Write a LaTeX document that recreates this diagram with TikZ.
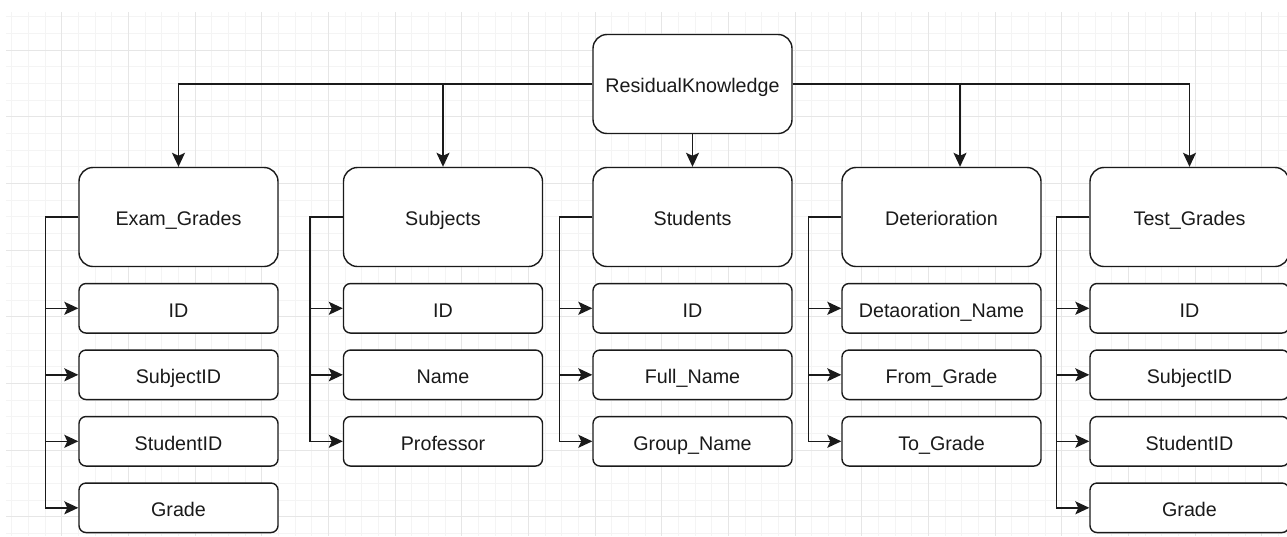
\documentclass[tikz,border=0pt]{standalone}
\usepackage{fontspec}
\setmainfont{Liberation Sans}
\usetikzlibrary{arrows.meta}
\definecolor{gridminor}{HTML}{F4F4F4}
\definecolor{gridmajor}{HTML}{E6E6E6}
\definecolor{ink}{HTML}{1A1A1A}
\begin{document}
\begin{tikzpicture}[x=1pt,y=-1pt,
  box/.style={draw=ink, line width=1.4pt, fill=white, rounded corners=14pt,
    minimum width=199pt, minimum height=99pt, inner sep=0pt,
    text height=17.4pt, text depth=0pt,
    font=\fontsize{19.7}{22}\selectfont, text=ink},
  leaf/.style={box, rounded corners=7pt, minimum height=49.5pt},
  arr/.style={draw=ink, line width=1.4pt,
    -{Stealth[length=14pt,width=13pt,inset=3pt]}}]
\useasboundingbox (0,0) rectangle (1287,536);
\fill[white] (0,0) rectangle (1287,536);
% grid
\foreach \i in {0,...,76}{
  \draw[gridminor, line width=1pt] ({11.667+16.667*\i},12) -- ({11.667+16.667*\i},536);}
\foreach \j in {0,...,31}{
  \draw[gridminor, line width=1pt] (6,{16.667+16.667*\j}) -- (1287,{16.667+16.667*\j});}
\foreach \i in {0,...,18}{
  \draw[gridmajor, line width=1pt] ({61.667+66.667*\i},12) -- ({61.667+66.667*\i},536);}
\foreach \j in {0,...,7}{
  \draw[gridmajor, line width=1pt] (6,{50+66.667*\j}) -- (1287,{50+66.667*\j});}

% root
\node[box] (root) at (692.5,84) {ResidualKnowledge};

% level 2
\node[box] (exam) at (178.5,217) {Exam\_Grades};
\node[box] (subj) at (443,217) {Subjects};
\node[box] (stud) at (692.5,217) {Students};
\node[box] (det)  at (941.5,217) {Deterioration};
\node[box] (test) at (1189.5,217) {Test\_Grades};

% leaves
\node[leaf] (e1) at (178.5,308.3) {ID};
\node[leaf] (e2) at (178.5,374.8) {SubjectID};
\node[leaf] (e3) at (178.5,441.3) {StudentID};
\node[leaf] (e4) at (178.5,507.8) {Grade};

\node[leaf] (s1) at (443,308.3) {ID};
\node[leaf] (s2) at (443,374.8) {Name};
\node[leaf] (s3) at (443,441.3) {Professor};

\node[leaf] (t1) at (692.5,308.3) {ID};
\node[leaf] (t2) at (692.5,374.8) {Full\_Name};
\node[leaf] (t3) at (692.5,441.3) {Group\_Name};

\node[leaf] (d1) at (941.5,308.3) {Detaoration\_Name};
\node[leaf] (d2) at (941.5,374.8) {From\_Grade};
\node[leaf] (d3) at (941.5,441.3) {To\_Grade};

\node[leaf] (g1) at (1189.5,308.3) {ID};
\node[leaf] (g2) at (1189.5,374.8) {SubjectID};
\node[leaf] (g3) at (1189.5,441.3) {StudentID};
\node[leaf] (g4) at (1189.5,507.8) {Grade};

% root connectors
\draw[arr] (root.west) -| (exam.north);
\draw[arr] (root.west) -| (subj.north);
\draw[arr] (root.south) -- (stud.north);
\draw[arr] (root.east) -| ([xshift=18.5pt]det.north);
\draw[arr] (root.east) -| (test.north);

% child connectors
\foreach \p/\cs in {exam/{e1,e2,e3,e4}, subj/{s1,s2,s3}, stud/{t1,t2,t3}, det/{d1,d2,d3}, test/{g1,g2,g3,g4}}{
  \foreach \c in \cs {
    \draw[arr] (\p.west) -- ++(-33,0) |- (\c.west);
  }
}
\end{tikzpicture}
\end{document}
